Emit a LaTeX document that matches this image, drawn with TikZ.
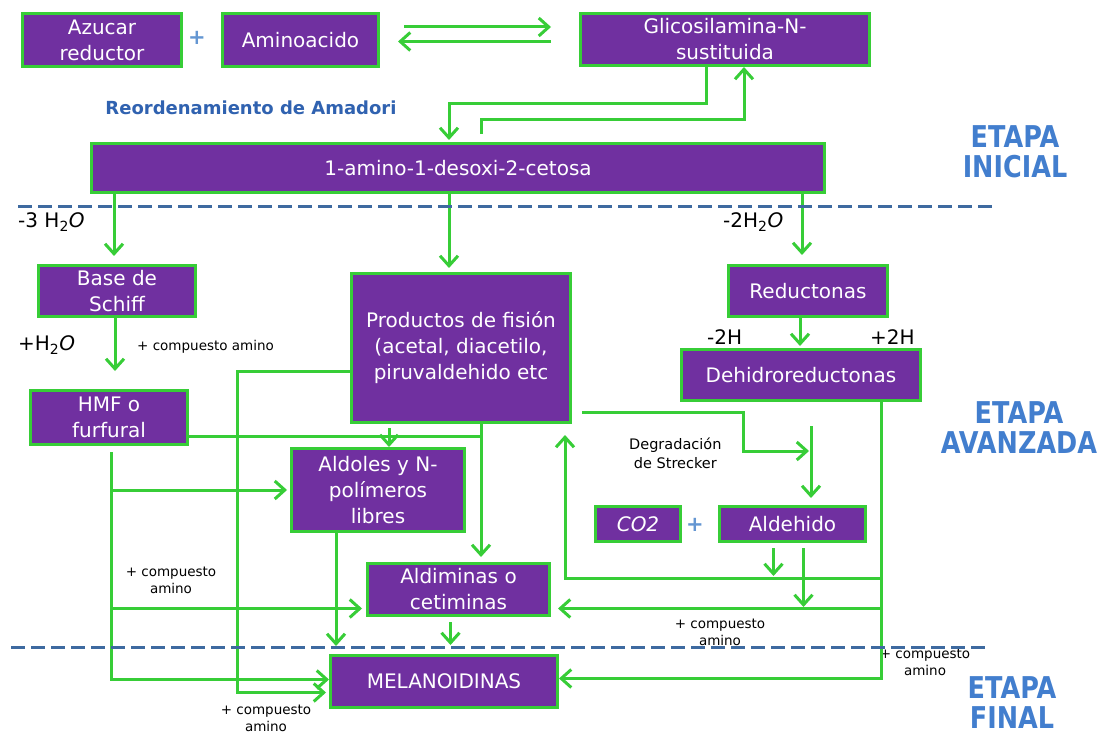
\documentclass[tikz,border=0pt]{standalone}
\usepackage{fontspec}
\setmainfont{DejaVu Sans}
\usepackage{graphicx}
\usetikzlibrary{arrows.meta}

\definecolor{boxpurple}{RGB}{112,48,160}
\definecolor{boxgreen}{RGB}{55,205,55}
\definecolor{stageblue}{RGB}{62,106,160}
\definecolor{titleblue}{RGB}{66,126,206}
\definecolor{amadoriblue}{RGB}{48,98,176}
\definecolor{plusblue}{RGB}{100,150,210}

\newcommand{\stagetext}[2]{\scalebox{0.85}[1]{#1}\\\scalebox{0.85}[1]{#2}}

\tikzset{
  compound/.style={draw=boxgreen, fill=boxpurple, line width=3pt, text=white,
    align=center, inner sep=0pt, font=\fontsize{20}{26}\selectfont},
  flow/.style={color=boxgreen, line width=3pt, >={Straight Barb[length=10pt,width=18pt]}},
  note/.style={font=\fontsize{13.5}{17}\selectfont, align=center, inner sep=0pt},
  water/.style={font=\fontsize{20}{22}\selectfont, inner sep=0pt, anchor=west},
  stage/.style={text=titleblue, font=\fontsize{30}{30}\selectfont\bfseries, align=center, inner sep=0pt},
  stage line/.style={draw=stageblue, line width=3pt, dash pattern=on 14pt off 6pt},
  plus sign/.style={text=plusblue, font=\fontsize{21}{21}\selectfont\bfseries, inner sep=0pt}
}

\begin{document}
\begin{tikzpicture}[x=1pt, y=-1pt]
\fill[white] (0,0) rectangle (1103,735);
\useasboundingbox (0,0) rectangle (1103,735);

% etapa inicial
\node[compound, minimum width=159pt, minimum height=53pt] (azucar) at (102,40) {Azucar\\reductor};
\node[plus sign] (plus_1) at (197,38) {+};
\node[compound, minimum width=156pt, minimum height=53pt] (amino_ac) at (300.5,40) {Aminoacido};
\node[compound, minimum width=289pt, minimum height=52pt] (glico) at (725,39.5) {Glicosilamina-N-\\sustituida};
\node[compound, minimum width=733pt, minimum height=49pt] (cetosa) at (458,168) {1-amino-1-desoxi-2-cetosa};

% etapa avanzada
\node[compound, minimum width=157pt, minimum height=51pt] (base_s) at (117,291) {Base de\\Schiff};
\node[compound, minimum width=157pt, minimum height=54pt] (hmf) at (109,417.5) {HMF o\\furfural};
\node[compound, minimum width=219pt, minimum height=149pt] (fision) at (461,348) {Productos de fisión\\(acetal, diacetilo,\\piruvaldehido etc};
\node[compound, minimum width=159pt, minimum height=51pt] (reduct) at (808,291) {Reductonas};
\node[compound, minimum width=239pt, minimum height=51pt] (dehidro) at (801,375) {Dehidroreductonas};
\node[compound, minimum width=173pt, minimum height=83pt] (aldoles) at (378,490) {Aldoles y N-\\polímeros\\libres};
\node[compound, minimum width=182pt, minimum height=52pt] (aldim) at (458.5,589.5) {Aldiminas o\\cetiminas};
\node[compound, minimum width=85pt, minimum height=35pt] (co2) at (638,524) {\textit{CO2}};
\node[plus sign] (plus_2) at (695,525) {+};
\node[compound, minimum width=146pt, minimum height=35pt] (aldeh) at (792.5,524) {Aldehido};

% etapa final
\node[compound, minimum width=227pt, minimum height=52pt] (melan) at (444,681.5) {MELANOIDINAS};

% textos
\node[text=amadoriblue, font=\fontsize{18}{20}\selectfont\bfseries, inner sep=0pt] (amadori) at (251,108) {Reordenamiento de Amadori};
\node[stage] (etapa_i) at (1015,152) {\stagetext{ETAPA}{INICIAL}};
\node[stage] (etapa_a) at (1019,427.5) {\stagetext{ETAPA}{AVANZADA}};
\node[stage] (etapa_f) at (1012,703) {\stagetext{ETAPA}{FINAL}};
\node[water] (agua_1) at (18,222) {-3 H\textsubscript{2}\textit{O}};
\node[water] (agua_2) at (18,345) {+H\textsubscript{2}\textit{O}};
\node[water] (agua_3) at (723,222) {-2H\textsubscript{2}\textit{O}};
\node[water] (hidr_1) at (707,337) {-2H};
\node[water] (hidr_2) at (870,337) {+2H};
\node[note, anchor=west] (amino_a) at (137,347) {+ compuesto amino};
\node[note] (amino_b) at (171,580) {+ compuesto\\amino};
\node[note] (amino_c) at (266,718) {+ compuesto\\amino};
\node[note] (amino_d) at (720,632) {+ compuesto\\amino};
\node[note] (amino_e) at (925,662) {+ compuesto\\amino};
\node[note, font=\fontsize{14.5}{19}\selectfont, anchor=west] (strecker) at (629,453) {Degradación\\de Strecker};

% flechas
\draw[flow, ->, shorten <=24pt, shorten >=28pt] ([yshift=13pt]amino_ac.east) -- ([yshift=13pt]amino_ac.east -| glico.west);
\draw[flow, ->, shorten <=28pt, shorten >=18pt] ([yshift=-2pt]glico.west) -- ([yshift=-2pt]glico.west -| amino_ac.east);
\draw[flow, ->, shorten >=2pt] ([xshift=-19pt]glico.south) |- ([xshift=-9pt,yshift=38pt]cetosa.north) -- ([xshift=-9pt]cetosa.north);
\draw[flow, ->] ([xshift=23pt,yshift=8pt]cetosa.north) |- ([xshift=19pt,yshift=-53pt]glico.south) -- ([xshift=19pt]glico.south);

\path[flow, ->] ([xshift=-3pt]base_s.north |- cetosa.south) edge[shorten >=8pt] ([xshift=-3pt]base_s.north)
    ([xshift=-12pt]fision.north |- cetosa.south) edge[shorten >=4pt] ([xshift=-12pt]fision.north)
    ([xshift=-6pt]reduct.north |- cetosa.south) edge[shorten >=9pt] ([xshift=-6pt]reduct.north)
    ([xshift=-2pt]base_s.south) edge[shorten >=18pt] ([xshift=-2pt]base_s.south |- hmf.north)
    ([xshift=-8pt]reduct.south) edge[shorten >=2pt] ([xshift=-8pt]reduct.south |- dehidro.north)
    ([xshift=11pt]aldoles.north |- fision.south) edge[shorten <=4pt] ([xshift=11pt]aldoles.north)
    ([xshift=-42pt]aldoles.south) edge[shorten >=8pt] ([xshift=-42pt]aldoles.south |- melan.north)
    ([xshift=-8pt]aldim.south) edge[shorten <=5pt, shorten >=9pt] ([xshift=-8pt]aldim.south |- melan.north)
    ([xshift=-19pt]aldeh.south) edge[shorten <=5pt, shorten >=2pt] ([xshift=-19pt,yshift=-35pt]aldeh.south)
    ([xshift=11pt]aldeh.south) edge[shorten <=5pt, shorten >=2pt] ([xshift=11pt,yshift=-66pt]aldeh.south);

% lado izquierdo
\coordinate (hmf_v) at ([xshift=2pt]hmf.south);
\coordinate (fis_v) at ([xshift=20pt]fision.south);
\draw[flow, ->, shorten <=6pt] (hmf_v) |- ([yshift=2pt]melan.west);
\draw[flow, ->, shorten >=3pt] (hmf_v |- aldoles.west) -- (aldoles.west);
\draw[flow, ->, shorten >=4pt] ([yshift=-19pt]aldim.west -| hmf_v) -- ([yshift=-19pt]aldim.west);
\draw[flow] ([yshift=-19pt]hmf.east) -- ([yshift=-19pt]hmf.east -| fis_v);
\draw[flow, ->, shorten >=5pt] (fis_v) -- (fis_v |- aldim.north);
\draw[flow, ->, shorten >=3pt] ([yshift=-23pt]fision.west) -- ++(-113pt,0pt) |- ([yshift=-11pt]melan.west);

% lado derecho
\coordinate (dr_s) at ([xshift=10pt]dehidro.south);
\coordinate (dr_v) at ([xshift=80pt]dehidro.south);
\draw[flow, ->, shorten <=10pt, shorten >=2pt] ([yshift=-64pt]fision.east) -- ++(171pt,0pt) |- ([yshift=-49pt]dr_s);
\draw[flow, ->, shorten <=24pt, shorten >=7pt] (dr_s) -- (dr_s |- aldeh.north);
\draw[flow, ->] (dr_v) |- ([yshift=3pt]melan.east);
\draw[flow, ->, shorten >=11pt] ([yshift=-35pt]aldeh.south -| dr_v) -| ([xshift=-7pt]fision.south east);
\draw[flow, ->, shorten >=7pt] ([yshift=-19pt]aldim.east -| dr_v) -- ([yshift=-19pt]aldim.east);

% etapas
\draw[stage line] (18,207) -- (993,207);
\draw[stage line] (11,647) -- (985,647);
\end{tikzpicture}
\end{document}
